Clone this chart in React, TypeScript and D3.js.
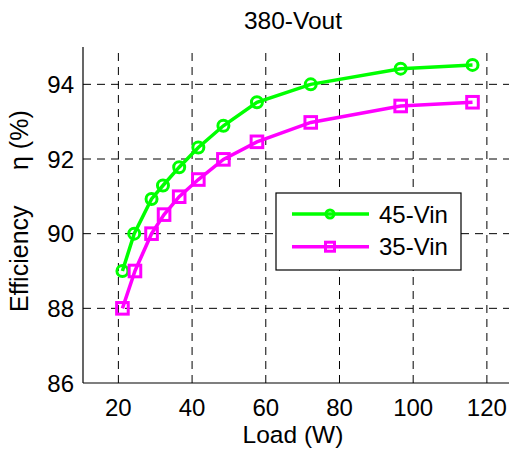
import React, { useRef, useEffect } from 'react';
import * as d3 from 'd3';

const load45 = [21.1, 24.3, 29, 32.1, 36.5, 41.7, 48.5, 57.6, 72.2, 96.6, 116.1];
const eff45 = [89.0, 90.0, 90.93, 91.29, 91.78, 92.31, 92.89, 93.52, 94.0, 94.42, 94.52];
const load35 = [21.1, 24.5, 29, 32.4, 36.5, 41.7, 48.5, 57.6, 72.2, 96.6, 116.1];
const eff35 = [88.0, 89.0, 90.0, 90.51, 90.99, 91.45, 91.99, 92.46, 92.98, 93.42, 93.52];
const xTicks = [20, 40, 60, 80, 100, 120];
const yTicks = [86, 88, 90, 92, 94];
const seriesNames = ['45-Vin', '35-Vin'];
const seriesColors = ['#00ff00', '#ff00ff'];

const App: React.FC = () => {
  const svgRef = useRef<SVGSVGElement>(null);

  useEffect(() => {
    const width = 510, height = 452;
    const svg = d3.select(svgRef.current as SVGSVGElement);
    svg.selectAll('*').remove();
    const font = 'Arial, "Liberation Sans", sans-serif';

    const left = 83, right = 509, top = 47, bottom = 383;
    const x = d3.scaleLinear().domain([10.4, 126]).range([left, right]);
    const y = d3.scaleLinear().domain([86, 95]).range([bottom, top]);

    svg.append('rect').attr('width', width).attr('height', height).attr('fill', 'white');

    // grid
    const grid = svg.append('g').attr('stroke', '#000').attr('stroke-width', 1).attr('stroke-dasharray', '8,6');
    xTicks.forEach(t => {
      grid.append('line').attr('x1', x(t)).attr('x2', x(t)).attr('y1', bottom).attr('y2', top);
    });
    yTicks.filter(t => t > 86).forEach(t => {
      grid.append('line').attr('x1', left).attr('x2', right).attr('y1', y(t)).attr('y2', y(t));
    });

    // axes lines
    svg.append('line').attr('x1', left).attr('x2', left).attr('y1', top).attr('y2', bottom).attr('stroke', '#000').attr('stroke-width', 1.2);
    svg.append('line').attr('x1', left).attr('x2', right).attr('y1', bottom).attr('y2', bottom).attr('stroke', '#000').attr('stroke-width', 1.2);

    // tick labels
    xTicks.forEach(t => {
      svg.append('text').attr('x', x(t)).attr('y', bottom + 33).attr('text-anchor', 'middle')
        .attr('font-family', font).attr('font-size', 24).text(t);
    });
    yTicks.forEach(t => {
      svg.append('text').attr('x', left - 9).attr('y', y(t) + 8.5).attr('text-anchor', 'end')
        .attr('font-family', font).attr('font-size', 24).text(t);
    });

    // labels
    svg.append('text').attr('x', 293).attr('y', 443).attr('text-anchor', 'middle')
      .attr('font-family', font).attr('font-size', 24.5).text('Load (W)');
    svg.append('text').attr('x', 293).attr('y', 29).attr('text-anchor', 'middle')
      .attr('font-family', font).attr('font-size', 24.5).text('380-Vout');
    svg.append('text').attr('transform', 'translate(28,312) rotate(-90)')
      .attr('font-family', font).attr('font-size', 25).text('Efficiency');
    svg.append('text').attr('transform', 'translate(28,170) rotate(-90)')
      .attr('font-family', font).attr('font-size', 25).text('η (%)');

    const datasets = [
      load45.map((l, i) => [l, eff45[i]] as [number, number]),
      load35.map((l, i) => [l, eff35[i]] as [number, number]),
    ];
    const line = d3.line<[number, number]>().x(d => x(d[0])).y(d => y(d[1]));

    const drawMarker = (g: any, kind: number, cx: number, cy: number, s: number, color: string) => {
      if (kind === 0) {
        g.append('circle').attr('cx', cx).attr('cy', cy).attr('r', s).attr('fill', 'none')
          .attr('stroke', color).attr('stroke-width', 3);
      } else {
        g.append('rect').attr('x', cx - s).attr('y', cy - s).attr('width', 2 * s).attr('height', 2 * s)
          .attr('fill', 'none').attr('stroke', color).attr('stroke-width', 3);
      }
    };

    datasets.forEach((data, k) => {
      svg.append('path').datum(data).attr('fill', 'none').attr('stroke', seriesColors[k])
        .attr('stroke-width', 3.5).attr('d', line as any);
      const g = svg.append('g');
      data.forEach(d => drawMarker(g, k, x(d[0]), y(d[1]), k === 0 ? 5.5 : 5.8, seriesColors[k]));
    });

    // legend
    const lg = svg.append('g');
    lg.append('rect').attr('x', 276).attr('y', 193).attr('width', 185).attr('height', 77)
      .attr('fill', 'white').attr('stroke', '#000').attr('stroke-width', 1.2);
    seriesNames.forEach((name, k) => {
      const ly = 214 + k * 32.7;
      lg.append('line').attr('x1', 292).attr('x2', 369).attr('y1', ly).attr('y2', ly)
        .attr('stroke', seriesColors[k]).attr('stroke-width', 3.5);
      drawMarker(lg, k, 330, ly, k === 0 ? 4 : 4.5, seriesColors[k]);
      lg.append('text').attr('x', 379).attr('y', ly + 8.5).attr('font-family', font)
        .attr('font-size', 24).text(name);
    });
  }, []);

  return <svg ref={svgRef} width={510} height={452} style={{ position: 'absolute', left: 0, top: 0 }} />;
};

export default App;
